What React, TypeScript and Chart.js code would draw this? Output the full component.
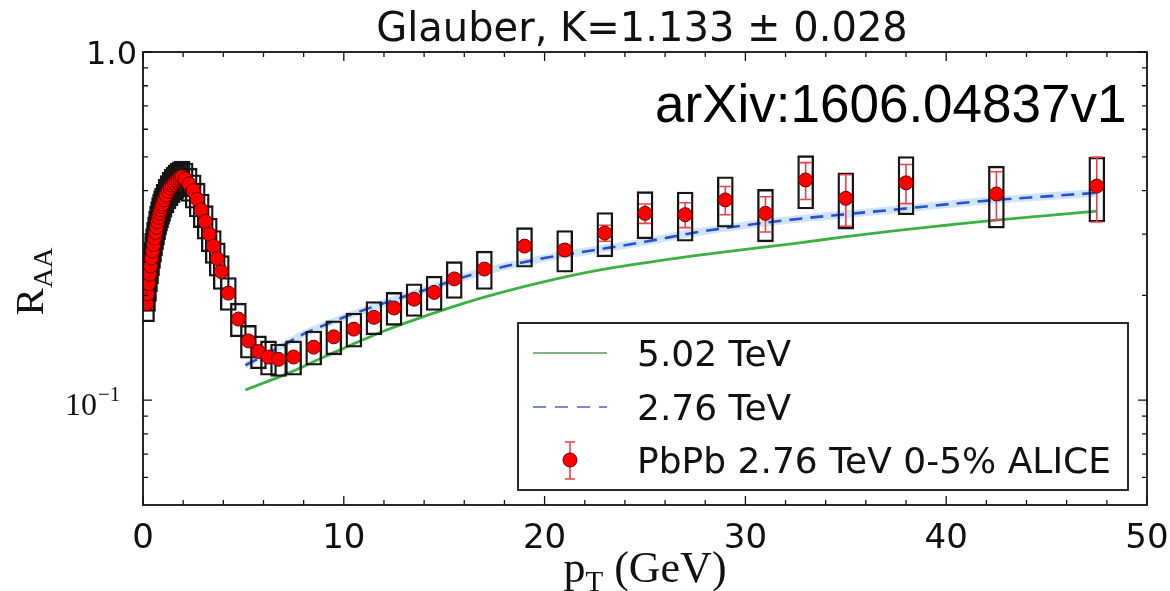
import React, { useEffect, useRef } from "react";
import { Chart, registerables } from "chart.js";

Chart.register(...registerables);

// ---------- data ----------
const ptData = [
  0.175, 0.225, 0.275, 0.325, 0.375, 0.425, 0.475, 0.525, 0.575, 0.625, 0.675, 0.725, 0.775, 0.825, 0.875, 0.925, 0.975,
  1.05, 1.15, 1.25, 1.35, 1.45, 1.55, 1.65, 1.75, 1.85, 1.95,
  2.1, 2.3, 2.5, 2.7, 2.9, 3.1, 3.3, 3.5, 3.7, 3.9,
  4.25, 4.75, 5.25, 5.75, 6.25, 6.75, 7.5, 8.5, 9.5,
  10.5, 11.5, 12.5, 13.5, 14.5, 15.5,
  17, 19, 21, 23, 25, 27, 29, 31, 33, 35, 38, 42.5, 47.5,
];
const raaData = [
  0.189, 0.202, 0.216, 0.23, 0.243, 0.256, 0.268, 0.28, 0.292, 0.303, 0.314, 0.325, 0.335, 0.344, 0.352, 0.36, 0.366,
  0.376, 0.388, 0.398, 0.407, 0.415, 0.421, 0.427, 0.432, 0.436, 0.438,
  0.432, 0.418, 0.4, 0.378, 0.352, 0.326, 0.3, 0.277, 0.255, 0.234,
  0.203, 0.171, 0.148, 0.138, 0.133, 0.131, 0.133, 0.142, 0.152,
  0.16, 0.173, 0.184, 0.195, 0.204, 0.223,
  0.238, 0.277, 0.27, 0.302, 0.344, 0.341, 0.376, 0.344, 0.429, 0.38, 0.421, 0.391, 0.412,
];
const statErr = [
  0.002, 0.002, 0.002, 0.002, 0.002, 0.002, 0.002, 0.002, 0.002, 0.002, 0.002, 0.002, 0.002, 0.002, 0.002, 0.002, 0.002,
  0.002, 0.002, 0.002, 0.002, 0.002, 0.002, 0.002, 0.002, 0.002, 0.002,
  0.002, 0.002, 0.002, 0.002, 0.002, 0.002, 0.002, 0.002, 0.002, 0.002,
  0.002, 0.002, 0.002, 0.002, 0.002, 0.002, 0.002, 0.003, 0.003,
  0.003, 0.003, 0.004, 0.004, 0.005, 0.005,
  0.006, 0.008, 0.01, 0.016, 0.022, 0.028, 0.035, 0.04, 0.052, 0.064, 0.054, 0.062, 0.087,
];
const sysErr = [
  0.021, 0.022, 0.024, 0.025, 0.027, 0.028, 0.029, 0.031, 0.032, 0.033, 0.035, 0.036, 0.037, 0.038, 0.039, 0.04, 0.04,
  0.041, 0.043, 0.044, 0.045, 0.046, 0.046, 0.047, 0.048, 0.048, 0.048,
  0.048, 0.046, 0.044, 0.042, 0.039, 0.036, 0.033, 0.03, 0.028, 0.026,
  0.022, 0.019, 0.016, 0.015, 0.015, 0.014, 0.015, 0.016, 0.017,
  0.018, 0.019, 0.02, 0.021, 0.023, 0.027,
  0.03, 0.036, 0.037, 0.044, 0.053, 0.055, 0.062, 0.059, 0.075, 0.07, 0.08, 0.079, 0.087,
];

const ptTheory = [5.1, 6, 7, 8, 9, 10, 12, 14, 16, 18, 20, 22.5, 25, 27.5, 30, 32.5, 35, 37.5, 40, 42.5, 45, 47.5];
const raa502 = [0.107, 0.112, 0.118, 0.125, 0.133, 0.141, 0.158, 0.174, 0.19, 0.205, 0.219, 0.235, 0.248, 0.26, 0.271, 0.282, 0.295, 0.307, 0.318, 0.329, 0.339, 0.349];
const raa276 = [0.126, 0.134, 0.144, 0.155, 0.164, 0.173, 0.19, 0.207, 0.226, 0.242, 0.256, 0.27, 0.285, 0.303, 0.318, 0.331, 0.342, 0.353, 0.365, 0.376, 0.385, 0.394];
const raa276Lo = [0.123, 0.131, 0.14, 0.151, 0.16, 0.169, 0.185, 0.202, 0.22, 0.236, 0.25, 0.263, 0.278, 0.295, 0.31, 0.323, 0.333, 0.344, 0.356, 0.367, 0.375, 0.384];
const raa276Hi = [0.129, 0.137, 0.148, 0.159, 0.168, 0.177, 0.195, 0.212, 0.232, 0.248, 0.262, 0.277, 0.292, 0.311, 0.326, 0.339, 0.351, 0.362, 0.374, 0.385, 0.395, 0.404];

const xMajorTicks = [0, 10, 20, 30, 40, 50];
const xTickLabels = ["0", "10", "20", "30", "40", "50"];
const xMinorTicks = [2, 4, 6, 8, 12, 14, 16, 18, 22, 24, 26, 28, 32, 34, 36, 38, 42, 44, 46, 48];
const yMajorTicks = [0.1, 1.0];
const yMinorTicks = [0.06, 0.07, 0.08, 0.09, 0.2, 0.3, 0.4, 0.5, 0.6, 0.7, 0.8, 0.9];

const titleText = "Glauber, K=1.133 \u00B1 0.028";
const noteText = "arXiv:1606.04837v1";
const legendLabels = ["5.02 TeV", "2.76 TeV", "PbPb 2.76 TeV 0-5% ALICE"];

// ---------- styles ----------
const GREEN = "#3cb043";
const BLUE = "#2b4fcf";
const RED = "#ff0000";
const ERR_RED = "#e8424a";
const SANS = '"DejaVu Sans"';
const SERIF = '"Liberation Serif"';

const pts = (xs: number[], ys: number[]) => xs.map((x, i) => ({ x, y: ys[i] }));

const errorBarPlugin = {
  id: "errorBars",
  afterDatasetDraw(chart: any, args: any) {
    if (args.index !== 1) return;
    const { ctx, chartArea } = chart;
    const xs = chart.scales.x;
    const ys = chart.scales.y;
    ctx.save();
    ctx.beginPath();
    ctx.rect(chartArea.left, chartArea.top, chartArea.right - chartArea.left, chartArea.bottom - chartArea.top);
    ctx.clip();
    ctx.strokeStyle = ERR_RED;
    ctx.lineWidth = 1.6;
    for (let i = 0; i < ptData.length; i++) {
      const x = xs.getPixelForValue(ptData[i]);
      const yt = ys.getPixelForValue(raaData[i] + statErr[i]);
      const yb = ys.getPixelForValue(raaData[i] - statErr[i]);
      ctx.beginPath();
      ctx.moveTo(x, yt);
      ctx.lineTo(x, yb);
      ctx.moveTo(x - 6, yt);
      ctx.lineTo(x + 6, yt);
      ctx.moveTo(x - 6, yb);
      ctx.lineTo(x + 6, yb);
      ctx.stroke();
    }
    ctx.restore();
  },
};

const decorPlugin = {
  id: "decor",
  afterDraw(chart: any) {
    const { ctx, chartArea } = chart;
    const xs = chart.scales.x;
    const ys = chart.scales.y;
    const { left, right, top, bottom } = chartArea;
    ctx.save();

    // frame
    ctx.strokeStyle = "#111";
    ctx.lineWidth = 1.8;
    ctx.strokeRect(left, top, right - left, bottom - top);

    // ticks (inward, all four sides)
    ctx.lineWidth = 1.3;
    ctx.beginPath();
    const xt = (v: number, len: number) => {
      const x = xs.getPixelForValue(v);
      ctx.moveTo(x, bottom);
      ctx.lineTo(x, bottom - len);
      ctx.moveTo(x, top);
      ctx.lineTo(x, top + len);
    };
    const yt = (v: number, len: number) => {
      const y = ys.getPixelForValue(v);
      ctx.moveTo(left, y);
      ctx.lineTo(left + len, y);
      ctx.moveTo(right, y);
      ctx.lineTo(right - len, y);
    };
    xMajorTicks.forEach((v) => xt(v, 9));
    xMinorTicks.forEach((v) => xt(v, 5));
    yMajorTicks.forEach((v) => yt(v, 9));
    yMinorTicks.forEach((v) => yt(v, 5));
    ctx.stroke();

    // x tick labels
    ctx.fillStyle = "#111";
    ctx.font = `34px ${SANS}`;
    ctx.textAlign = "center";
    ctx.textBaseline = "alphabetic";
    xMajorTicks.forEach((v, i) => {
      ctx.fillText(xTickLabels[i], xs.getPixelForValue(v), 548);
    });

    // y tick labels
    ctx.textAlign = "right";
    ctx.font = `32px ${SANS}`;
    ctx.fillText("1.0", left - 6, ys.getPixelForValue(1.0) + 12);
    const y01 = ys.getPixelForValue(0.1);
    ctx.font = `32px ${SERIF}`;
    ctx.textAlign = "left";
    const w10 = ctx.measureText("10").width;
    const xs10 = 97 - w10;
    ctx.fillText("10", xs10, y01 + 15);
    ctx.font = `21px ${SERIF}`;
    ctx.fillText("\u22121", 98, y01 + 1);

    // y axis title R_AA (rotated)
    ctx.save();
    ctx.translate(43, (top + bottom) / 2 + 3);
    ctx.rotate(-Math.PI / 2);
    ctx.font = `41px ${SERIF}`;
    const wR = ctx.measureText("R").width;
    ctx.font = `28px ${SERIF}`;
    const wAA = ctx.measureText("AA").width;
    const tot = wR + wAA;
    ctx.font = `41px ${SERIF}`;
    ctx.fillText("R", -tot / 2, 0);
    ctx.font = `28px ${SERIF}`;
    ctx.fillText("AA", -tot / 2 + wR, 9);
    ctx.restore();

    // x axis title p_T (GeV)
    ctx.textAlign = "left";
    ctx.font = `44px ${SERIF}`;
    const wp = ctx.measureText("p").width;
    ctx.font = `29px ${SERIF}`;
    const wT = ctx.measureText("T").width;
    ctx.font = `44px ${SERIF}`;
    const wG = ctx.measureText(" (GeV)").width;
    const totX = wp + wT + wG;
    let cx = (left + right) / 2 - totX / 2;
    ctx.fillText("p", cx, 582);
    cx += wp;
    ctx.font = `29px ${SERIF}`;
    ctx.fillText("T", cx, 591);
    cx += wT;
    ctx.font = `44px ${SERIF}`;
    ctx.fillText(" (GeV)", cx, 582);

    // title
    ctx.textAlign = "center";
    ctx.font = `40px ${SANS}`;
    ctx.fillText(titleText, (left + right) / 2 - 3, 41);

    // note
    ctx.textAlign = "left";
    ctx.fillStyle = "#000";
    ctx.font = `53px "Liberation Sans"`;
    ctx.fillText(noteText, 655, 122);

    // legend
    const lx0 = 518, ly0 = 323, lx1 = 1128, ly1 = 490;
    ctx.fillStyle = "#fff";
    ctx.fillRect(lx0, ly0, lx1 - lx0, ly1 - ly0);
    ctx.strokeStyle = "#111";
    ctx.lineWidth = 1.8;
    ctx.strokeRect(lx0, ly0, lx1 - lx0, ly1 - ly0);
    const rows = [353, 407, 460];
    // green
    ctx.strokeStyle = "#5a9a5a";
    ctx.lineWidth = 1.6;
    ctx.beginPath();
    ctx.moveTo(533, rows[0]);
    ctx.lineTo(607, rows[0]);
    ctx.stroke();
    // blue dashed
    ctx.strokeStyle = "#5060d0";
    ctx.setLineDash([13, 9]);
    ctx.beginPath();
    ctx.moveTo(533, rows[1]);
    ctx.lineTo(607, rows[1]);
    ctx.stroke();
    ctx.setLineDash([]);
    // marker with error bar
    ctx.strokeStyle = ERR_RED;
    ctx.lineWidth = 1.6;
    ctx.beginPath();
    ctx.moveTo(570, rows[2] - 18);
    ctx.lineTo(570, rows[2] + 19);
    ctx.moveTo(565, rows[2] - 18);
    ctx.lineTo(575, rows[2] - 18);
    ctx.moveTo(565, rows[2] + 19);
    ctx.lineTo(575, rows[2] + 19);
    ctx.stroke();
    ctx.fillStyle = RED;
    ctx.strokeStyle = "#6b0000";
    ctx.lineWidth = 1;
    ctx.beginPath();
    ctx.arc(570, rows[2], 7, 0, Math.PI * 2);
    ctx.fill();
    ctx.stroke();
    // labels
    ctx.fillStyle = "#111";
    ctx.font = `36px ${SANS}`;
    ctx.textAlign = "left";
    legendLabels.forEach((t, i) => ctx.fillText(t, 637, rows[i] + 13));

    ctx.restore();
  },
};

export default function App() {
  const canvasRef = useRef<HTMLCanvasElement | null>(null);

  useEffect(() => {
    document.body.style.margin = "0";
    const canvas = canvasRef.current;
    if (!canvas) return;
    const chart = new Chart(canvas, {
      type: "line",
      data: {
        datasets: [
          {
            type: "scatter",
            label: "ALICE",
            data: pts(ptData, raaData),
            pointRadius: 7,
            pointBackgroundColor: RED,
            pointBorderColor: "#6b0000",
            pointBorderWidth: 1,
            showLine: false,
            order: 0,
            clip: 0,
          } as any,
          {
            type: "bar",
            label: "sys",
            data: ptData.map((x, i) => ({ x, y: [raaData[i] - sysErr[i], raaData[i] + sysErr[i]] })),
            backgroundColor: "rgba(0,0,0,0)",
            borderColor: "#151515",
            borderWidth: 1.7,
            borderSkipped: false,
            barThickness: 16,
            grouped: false,
            order: 2,
            clip: 0,
          } as any,
          {
            type: "line",
            label: "2.76 TeV",
            data: pts(ptTheory, raa276),
            borderColor: BLUE,
            borderWidth: 2.6,
            borderDash: [13, 8],
            pointRadius: 0,
            fill: false,
            cubicInterpolationMode: "monotone",
            order: 3,
          } as any,
          {
            type: "line",
            label: "5.02 TeV",
            data: pts(ptTheory, raa502),
            borderColor: GREEN,
            borderWidth: 2.8,
            pointRadius: 0,
            fill: false,
            cubicInterpolationMode: "monotone",
            order: 4,
          } as any,
          {
            type: "line",
            label: "band hi",
            data: pts(ptTheory, raa276Hi),
            borderWidth: 0,
            borderColor: "rgba(0,0,0,0)",
            pointRadius: 0,
            fill: "+1",
            backgroundColor: "rgba(150,195,240,0.45)",
            cubicInterpolationMode: "monotone",
            order: 5,
          } as any,
          {
            type: "line",
            label: "band lo",
            data: pts(ptTheory, raa276Lo),
            borderWidth: 0,
            borderColor: "rgba(0,0,0,0)",
            pointRadius: 0,
            fill: false,
            cubicInterpolationMode: "monotone",
            order: 6,
          } as any,
        ],
      },
      options: {
        responsive: false,
        animation: false,
        devicePixelRatio: 1,
        layout: { padding: { left: 143, right: 23, top: 52, bottom: 86 } },
        scales: {
          x: { type: "linear", min: 0, max: 50, display: false, offset: false },
          y: { type: "logarithmic", min: 0.05, max: 1, display: false },
        },
        plugins: {
          legend: { display: false },
          tooltip: { enabled: false },
          title: { display: false },
        },
      } as any,
      plugins: [errorBarPlugin, decorPlugin],
    });
    return () => chart.destroy();
  }, []);

  return (
    <div style={{ width: 1170, height: 591, background: "#fff" }}>
      <canvas ref={canvasRef} width={1170} height={591} style={{ display: "block" }} />
    </div>
  );
}
